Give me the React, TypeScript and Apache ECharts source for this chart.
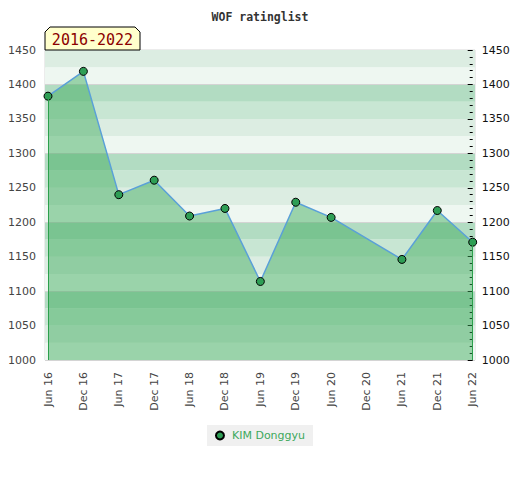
import React, { useEffect, useRef } from "react";
import * as echarts from "echarts";

const categories = [
  "Jun 16", "Dec 16", "Jun 17", "Dec 17", "Jun 18", "Dec 18", "Jun 19",
  "Dec 19", "Jun 20", "Dec 20", "Jun 21", "Dec 21", "Jun 22",
];
const ratings: (number | null)[] = [
  1383, 1419, 1240, 1261, 1209, 1220, 1114, 1229, 1207, null, 1146, 1217, 1171,
];
const playerName = "KIM Donggyu";
const periodLabel = "2016-2022";
const chartTitle = "WOF ratinglist";
const yMin = 1000;
const yMax = 1450;
const bandColors = ["#eef7f1", "#dcede2", "#c8e6d3", "#b2dcc2"];

export default function App() {
  const ref = useRef<HTMLDivElement>(null);
  useEffect(() => {
    if (!ref.current) return;
    const chart = echarts.init(ref.current, null, { renderer: "svg" });
    const lastIdx = ratings.length - 1;
    const font = "DejaVu Sans";
    chart.setOption({
      animation: false,
      backgroundColor: "#ffffff",
      title: {
        text: chartTitle,
        left: "center",
        top: 6,
        textStyle: {
          fontFamily: "DejaVu Sans Mono",
          fontWeight: "bold",
          fontSize: 11.5,
          color: "#333",
        },
      },
      legend: {
        data: [playerName],
        left: "center",
        top: 425,
        icon: "circle",
        itemWidth: 8,
        itemHeight: 8,
        itemGap: 6,
        padding: [5, 8],
        backgroundColor: "#f0f0f0",
        textStyle: {
          color: "#3da85c",
          fontSize: 11,
          fontFamily: font,
          padding: [0, 0, 0, 3],
        },
      },
      grid: [
        {
          left: 45, right: 45, top: 50, bottom: 120,
          show: true, borderColor: "#d9d9d9", borderWidth: 1,
          backgroundColor: "transparent",
        },
        { left: 48, right: 47.3, top: 50, bottom: 120 },
      ],
      xAxis: [
        { gridIndex: 0, type: "value", min: 0, max: 1, show: false },
        {
          gridIndex: 1,
          type: "category",
          data: categories,
          boundaryGap: false,
          axisLine: { show: false },
          axisTick: { show: false },
          splitLine: { show: false },
          axisLabel: {
            rotate: 90,
            interval: 0,
            margin: 12,
            fontSize: 11,
            fontFamily: font,
            color: "#444",
          },
        },
      ],
      yAxis: [
        {
          gridIndex: 0,
          type: "value",
          position: "left",
          min: yMin,
          max: yMax,
          interval: 25,
          axisLine: { show: false },
          axisTick: { show: false },
          axisLabel: {
            margin: 9,
            fontSize: 11,
            fontFamily: font,
            color: "#444",
            formatter: (v: number) => (v % 50 === 0 ? String(v) : ""),
          },
          splitLine: {
            show: true,
            lineStyle: {
              color: ["#d4d4d4", "rgba(0,0,0,0)", "rgba(0,0,0,0)", "rgba(0,0,0,0)"],
              width: 1,
            },
          },
          splitArea: { show: true, areaStyle: { color: bandColors } },
        },
        {
          gridIndex: 1,
          type: "value",
          position: "right",
          min: yMin,
          max: yMax,
          interval: 50,
          axisLine: { show: false },
          axisTick: { show: true, inside: true, length: 5, lineStyle: { color: "#000", width: 1 } },
          minorTick: { show: true, splitNumber: 5, length: 3, lineStyle: { color: "#000", width: 1 } },
          splitLine: { show: false },
          minorSplitLine: { show: false },
          axisLabel: {
            margin: 9,
            fontSize: 11,
            fontFamily: font,
            color: "#111",
            formatter: (v: number) => String(v),
          },
        },
      ],
      series: [
        {
          name: playerName,
          type: "line",
          xAxisIndex: 1,
          yAxisIndex: 1,
          data: ratings,
          connectNulls: true,
          symbol: "circle",
          symbolSize: 8,
          lineStyle: { color: "#5aa0d8", width: 1.5 },
          itemStyle: { color: "#2e9e55", borderColor: "#000", borderWidth: 1 },
          areaStyle: { color: "rgb(60,170,90)", opacity: 0.47 },
          z: 3,
          markLine: {
            silent: true,
            symbol: ["none", "none"],
            label: { show: false },
            lineStyle: { color: "#2ca04c", width: 1, type: "solid", opacity: 1 },
            data: [
              [{ coord: [0, ratings[0]] }, { coord: [0, yMin] }],
              [{ coord: [lastIdx, ratings[lastIdx]] }, { coord: [lastIdx, yMin] }],
            ],
          },
        },
      ],
      graphic: [
        {
          type: "polygon",
          shape: {
            points: [[45, 50], [45, 32], [50, 27], [135, 27], [140, 32], [140, 50]],
          },
          style: { fill: "#ffffcc", stroke: "#000", lineWidth: 1 },
          z: 10,
        },
        {
          type: "text",
          x: 92.5,
          y: 40,
          style: {
            text: periodLabel,
            fontFamily: "DejaVu Sans Mono",
            fontSize: 15,
            fill: "#8b0000",
            align: "center",
            verticalAlign: "middle",
          },
          z: 11,
        },
      ],
    });
    return () => chart.dispose();
  }, []);
  return (
    <div
      ref={ref}
      style={{ position: "fixed", left: 0, top: 0, width: 520, height: 480 }}
    />
  );
}
